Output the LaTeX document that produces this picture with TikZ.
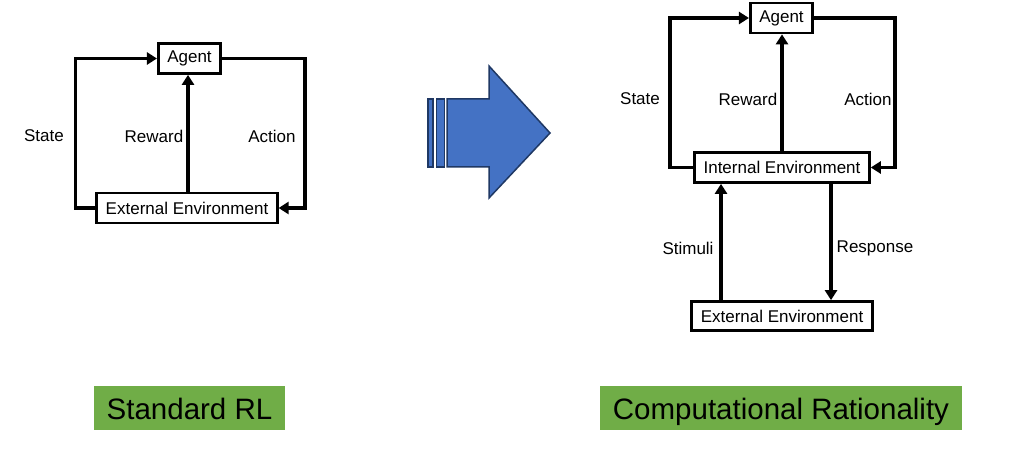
\documentclass[tikz,border=0pt]{standalone}
\usepackage{fontspec}
\setmainfont{Liberation Sans}
\usepackage{xcolor}
\usetikzlibrary{arrows.meta,positioning}
\definecolor{ArrowBlue}{HTML}{4472C4}
\definecolor{ArrowEdge}{HTML}{1F3864}
\definecolor{TagGreen}{HTML}{70AD47}

\begin{document}
\begin{tikzpicture}[line cap=butt,line join=miter,x=1pt,y=-1pt,
  >={Triangle[length=10pt,width=12pt]},
  box/.style={draw,line width=2.7pt,inner xsep=9pt,minimum height=30pt,
    font=\fontsize{17}{20}\selectfont},
  lbl/.style={font=\fontsize{17}{20}\selectfont,inner sep=0pt},
  link/.style={->,line width=3.5pt},
  tag/.style={fill=TagGreen,minimum height=44pt,inner sep=0pt,
    text height=29pt,text depth=6pt,font=\fontsize{29.5}{34}\selectfont}]
  \useasboundingbox (0,0) rectangle (1016,449);
  % standard RL
  \node[box] (agentL) at (189.5,58.5) {Agent};
  \node[box] (extL) at (187,208) {External Environment};
  \draw[link] (extL.west) -- ++(-20,0) |- (agentL.west);
  \draw[link] (agentL.east) -- ++(83,0) |- (extL.east);
  \draw[link] (extL.north -| 188,0) -- (agentL.south -| 188,0);
  \node[lbl] at (44,136) {State};
  \node[lbl] at (154,136) {Reward};
  \node[lbl] at (272,136) {Action};
  % block arrow
  \begin{scope}[fill=ArrowBlue,draw=ArrowEdge,line width=1.5pt]
    \filldraw (447,99) -- (489,99) -- (489,66) -- (550,133) -- (489,198)
      -- (489,167) -- (447,167) -- cycle;
    \filldraw (428,99) rectangle (433,167);
    \filldraw (436.5,99) rectangle (444.5,167);
  \end{scope}
  % computational rationality
  \node[box] (agentR) at (781.5,18) {Agent};
  \node[box] (intR) at (782,167.5) {Internal Environment};
  \node[box,minimum height=29pt] (extR) at (782,316) {External Environment};
  \draw[link] (intR.west) -- ++(-23,0) |- (agentR.west);
  \draw[link] (agentR.east) -- ++(81,0) |- (intR.east);
  \draw[link] (intR.north -| 782,0) -- (agentR.south -| 782,0);
  \draw[link] (extR.north -| 721,0) -- (intR.south -| 721,0);
  \draw[link] (intR.south -| 831,0) -- (extR.north -| 831,0);
  \node[lbl] at (640,99) {State};
  \node[lbl] at (748,99) {Reward};
  \node[lbl] at (868,99) {Action};
  \node[lbl] at (688,248) {Stimuli};
  \node[lbl] at (875,248) {Response};
  % tags
  \node[tag,minimum width=191pt] (tagL) at (189.5,408) {Standard RL};
  \node[tag,minimum width=362pt] (tagR) at (781,408) {Computational Rationality};
\end{tikzpicture}
\end{document}
